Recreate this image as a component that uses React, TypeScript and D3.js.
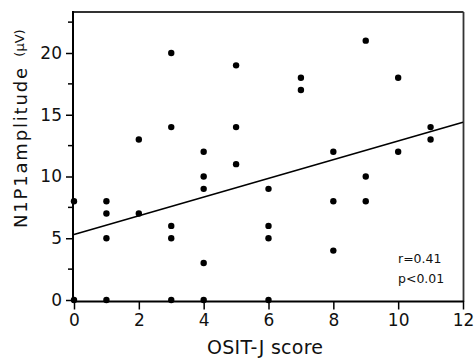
import React, { useEffect, useRef } from "react";
import * as d3 from "d3";

// OSIT-J score (x) and N1P1 amplitude in µV (y)
const scoreX = [0, 0, 1, 1, 1, 1, 2, 2, 3, 3, 3, 3, 3, 4, 4, 4, 4, 4, 5, 5, 5, 6, 6, 6, 6, 7, 7, 8, 8, 8, 9, 9, 9, 10, 10, 11, 11];
const amplitudeY = [8, 0, 8, 7, 5, 0, 13, 7, 20, 14, 6, 5, 0, 12, 10, 9, 3, 0, 19, 14, 11, 9, 6, 5, 0, 18, 17, 12, 8, 4, 21, 10, 8, 18, 12, 14, 13];
// regression line end points (x, y)
const fitX = [0, 12];
const fitY = [5.3, 14.4];
const xTicks = [0, 2, 4, 6, 8, 10, 12];
const yTicks = [0, 5, 10, 15, 20];
const yMinorTicks = [2.5, 7.5, 12.5, 17.5, 22.5];
const statsLines = ["r=0.41", "p<0.01"];

const App = () => {
  const chart = useRef<SVGSVGElement>(null);

  useEffect(() => {
    const width = 474;
    const height = 358;
    const left = 74;
    const right = 463;
    const top = 12;
    const bottom = 300;

    const svg = d3.select(chart.current);
    svg.selectAll("*").remove();
    svg.attr("width", width).attr("height", height);

    const font = "'DejaVu Sans', sans-serif";

    const xScale = d3.scaleLinear().domain([0, 12]).range([left, right]);
    const yScale = d3.scaleLinear().domain([0, 20]).range([bottom, bottom - 247]);

    // frame: top + right grey, left + bottom black
    svg.append("line")
      .attr("x1", left - 1).attr("x2", right + 0.5)
      .attr("y1", top).attr("y2", top)
      .attr("stroke", "#333").attr("stroke-width", 1.8);
    svg.append("line")
      .attr("x1", right + 0.5).attr("x2", right + 0.5)
      .attr("y1", top).attr("y2", bottom + 2)
      .attr("stroke", "#333").attr("stroke-width", 1.8);

    // y axis
    const yAxis = d3.axisLeft(yScale).tickValues(yTicks).tickSize(7).tickPadding(4).tickSizeOuter(0);
    const gy = svg.append("g").attr("transform", `translate(${left - 1},0)`).call(yAxis);
    gy.select(".domain").remove();
    gy.selectAll(".tick line").attr("stroke", "#000").attr("stroke-width", 1.5);
    gy.selectAll(".tick text")
      .attr("font-family", font).attr("font-size", 17).attr("fill", "#111");
    gy.selectAll(".minor")
      .data(yMinorTicks)
      .join("line")
      .attr("x1", -5).attr("x2", 0)
      .attr("y1", (d) => yScale(d)).attr("y2", (d) => yScale(d))
      .attr("stroke", "#000").attr("stroke-width", 1.5);
    gy.append("line")
      .attr("x1", 0).attr("x2", 0)
      .attr("y1", top - 1).attr("y2", bottom + 2.5)
      .attr("stroke", "#000").attr("stroke-width", 2);

    // x axis
    const xAxis = d3.axisBottom(xScale).tickValues(xTicks).tickSize(8).tickPadding(4).tickSizeOuter(0);
    const gx = svg.append("g").attr("transform", `translate(0,${bottom + 1.5})`).call(xAxis);
    gx.select(".domain").remove();
    gx.selectAll(".tick line").attr("stroke", "#000").attr("stroke-width", 1.5);
    gx.selectAll(".tick text")
      .attr("font-family", font).attr("font-size", 17).attr("fill", "#111");
    gx.append("line")
      .attr("x1", left - 2).attr("x2", right + 1)
      .attr("y1", 0).attr("y2", 0)
      .attr("stroke", "#000").attr("stroke-width", 2);

    // axis titles
    svg.append("text")
      .attr("x", 265).attr("y", 354)
      .attr("text-anchor", "middle")
      .attr("font-family", font).attr("font-size", 19).attr("fill", "#111")
      .attr("textLength", 116)
      .text("OSIT-J score");
    svg.append("text")
      .attr("transform", `translate(27,${148}) rotate(-90)`)
      .attr("text-anchor", "middle")
      .attr("font-family", font).attr("font-size", 18).attr("fill", "#111")
      .attr("textLength", 160)
      .text("N1P1amplitude");
    svg.append("text")
      .attr("transform", `translate(24,${43}) rotate(-90)`)
      .attr("text-anchor", "middle")
      .attr("font-family", font).attr("font-size", 13).attr("fill", "#111")
      .text("(μV)");

    // regression line
    const line = d3.line<number>()
      .x((d) => xScale(d))
      .y((d, i) => yScale(fitY[i]));
    svg.append("path")
      .attr("d", line(fitX))
      .attr("fill", "none").attr("stroke", "#000").attr("stroke-width", 1.6);

    // points
    svg.selectAll(".dot")
      .data(scoreX)
      .join("circle")
      .attr("cx", (d) => xScale(d))
      .attr("cy", (d, i) => yScale(amplitudeY[i]))
      .attr("r", 3.2)
      .attr("fill", "#000");

    // stats
    svg.selectAll(".stat")
      .data(statsLines)
      .join("text")
      .attr("x", 398)
      .attr("y", (d, i) => 263 + i * 20)
      .attr("font-family", font).attr("font-size", 12.5).attr("fill", "#111")
      .text((d) => d);
  }, []);

  return (
    <div>
      <svg ref={chart} style={{ position: "absolute", left: 0, top: 0, background: "#fff" }}></svg>
    </div>
  );
};

export default App;
